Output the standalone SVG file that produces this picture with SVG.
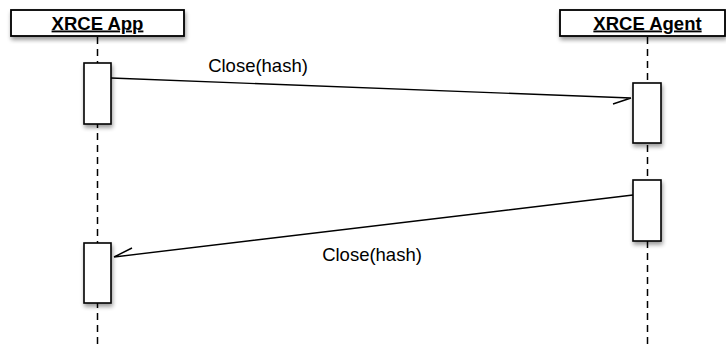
<svg xmlns="http://www.w3.org/2000/svg" width="726" height="345" viewBox="0 0 726 345">
<style>
.hdr{fill:#fff;stroke:#000;stroke-width:1.8;filter:url(#sh)}
.act{fill:#fff;stroke:#000;stroke-width:1.6;filter:url(#sh)}
.life{stroke:#000;stroke-width:1.5;stroke-dasharray:7 5;fill:none}
.msg{stroke:#000;stroke-width:1.4;fill:none}
.ht{font-family:"Liberation Sans",Arial,sans-serif;font-weight:bold;font-size:18.5px;text-decoration:underline;text-anchor:middle}
.lbl{font-family:"Liberation Sans",Arial,sans-serif;font-size:18.5px;text-anchor:middle}
</style>
<defs>
<filter id="sh" x="-20%" y="-20%" width="150%" height="150%">
<feGaussianBlur in="SourceAlpha" stdDeviation="2"/>
<feOffset dx="1" dy="3" result="b"/>
<feComponentTransfer><feFuncA type="linear" slope="0.4"/></feComponentTransfer>
<feMerge><feMergeNode/><feMergeNode in="SourceGraphic"/></feMerge>
</filter>
</defs>
<g id="lifelines">
<line class="life" x1="97.5" y1="37" x2="97.5" y2="345"/>
<line class="life" x1="647.5" y1="37" x2="647.5" y2="345"/>
</g>
<g id="app">
<rect class="hdr" x="11" y="10" width="173" height="26"/>
<text class="ht" x="97.5" y="29.5">XRCE App</text>
</g>
<g id="agent">
<rect class="hdr" x="560" y="10" width="165" height="26"/>
<text class="ht" x="647.5" y="29.5">XRCE Agent</text>
</g>
<g id="app-act1"><rect class="act" x="84" y="63" width="27" height="61"/></g>
<g id="agent-act1"><rect class="act" x="633" y="83" width="28" height="60"/></g>
<g id="agent-act2"><rect class="act" x="633" y="180" width="28" height="61"/></g>
<g id="app-act2"><rect class="act" x="84" y="243" width="27" height="60"/></g>
<g id="connectors">
<path class="msg" d="M111 78 L631 98 M631 98 L613 104"/>
<path class="msg" d="M633 195 L114 257 M114 257 L132 248"/>
</g>
<g id="labels">
<text class="lbl" x="258" y="72">Close(hash)</text>
<text class="lbl" x="372" y="261">Close(hash)</text>
</g>
</svg>
